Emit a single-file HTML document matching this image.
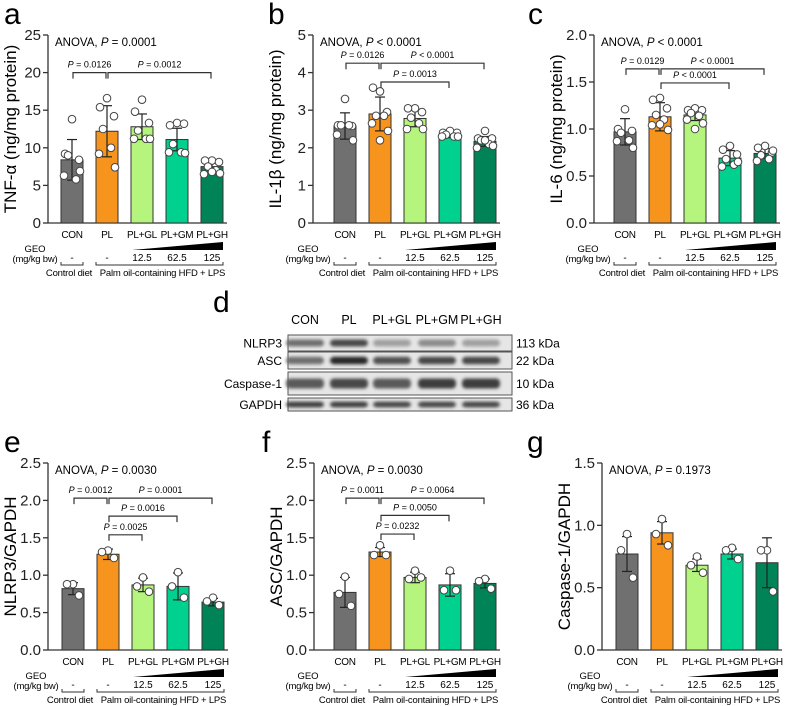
<!DOCTYPE html>
<html><head><meta charset="utf-8">
<style>
body{margin:0;background:#fff;}
svg{display:block;font-family:"Liberation Sans",Arial,sans-serif;}
</style></head>
<body>
<svg id="fig" width="790" height="706" viewBox="0 0 790 706" xmlns="http://www.w3.org/2000/svg">
<defs><filter id="bl" x="-20%" y="-50%" width="140%" height="200%"><feGaussianBlur stdDeviation="1.6"/></filter></defs>
</svg>
<script>
const groups = ["CON","PL","PL+GL","PL+GM","PL+GH"];
const colors = ["#707070","#F7941D","#B5F57E","#00D18F","#008457"];
// panel a
const aMeans=[8.4,12.2,12.8,11.1,7.5];
const aSD=[2.7,3.4,1.7,1.5,0.8];
const aPts=[[13.8,9.2,8.4,9.0,5.8,6.3,6.9],[16.6,15.4,14.2,12.5,10.0,9.2,7.4],[16.4,14.8,13.3,12.3,11.2,11.2,11.2],[13.3,13.0,13.2,10.5,9.4,9.4,9.3],[8.3,8.3,8.1,7.5,7.0,6.5,6.6,6.8]];
const aTicks=["0","5","10","15","20","25"];
// panel b
const bMeans=[2.58,2.9,2.78,2.35,2.17];
const bSD=[0.35,0.45,0.22,0.08,0.13];
const bPts=[[3.3,2.6,2.58,2.6,2.6,2.35,2.2],[3.5,3.6,2.95,2.85,2.85,2.65,2.45,2.2],[3.05,3.05,2.95,2.8,2.65,2.5,2.5],[2.45,2.4,2.4,2.35,2.3,2.3,2.3],[2.45,2.25,2.25,2.2,2.1,2.0,2.05,2.2]];
const bTicks=["0","1","2","3","4","5"];
// panel c
const cMeans=[0.97,1.13,1.15,0.69,0.74];
const cSD=[0.14,0.15,0.06,0.08,0.05];
const cPts=[[1.21,1.0,0.98,0.96,0.88,0.87,0.8],[1.33,1.31,1.22,1.15,1.1,1.04,0.99,1.05],[1.22,1.2,1.2,1.17,1.14,1.1,1.06,1.0],[0.82,0.78,0.73,0.68,0.62,0.6,0.65],[0.82,0.8,0.75,0.72,0.68,0.66,0.77]];
const cTicks=["0.0","0.5","1.0","1.5","2.0"];
// panel e
const eMeans=[0.82,1.28,0.87,0.85,0.64];
const eSD=[0.08,0.07,0.09,0.18,0.05];
const ePts=[[0.88,0.88,0.73],[1.33,1.31,1.23],[0.97,0.85,0.78],[1.04,0.85,0.7],[0.7,0.65,0.6]];
const eTicks=["0.0","0.5","1.0","1.5","2.0","2.5"];
// panel f
const fMeans=[0.77,1.31,0.97,0.87,0.89];
const fSD=[0.2,0.06,0.07,0.15,0.06];
const fPts=[[0.98,0.75,0.59],[1.4,1.27,1.27],[1.06,0.95,0.97],[1.06,0.8,0.8],[0.95,0.92,0.82]];
const fTicks=["0.0","0.5","1.0","1.5","2.0","2.5"];
// panel g
const gMeans=[0.77,0.94,0.68,0.77,0.7];
const gSD=[0.14,0.09,0.05,0.04,0.2];
const gPts=[[0.93,0.8,0.58],[1.05,0.93,0.84],[0.75,0.68,0.62],[0.82,0.8,0.73],[0.8,0.8,0.47]];
const gTicks=["0.0","0.5","1.0","1.5"];

const svg=document.getElementById('fig');
const NS="http://www.w3.org/2000/svg";
function mk(tag,attrs,parent){const e=document.createElementNS(NS,tag);for(const k in attrs)e.setAttribute(k,attrs[k]);(parent||svg).appendChild(e);return e;}
function txt(s,attrs,parent){const e=mk('text',attrs,parent);e.textContent=s;return e;}

function panel(cfg){
  const g=mk('g',{});
  
  
  const ymax=cfg.ymax, y0=cfg.y0, h=cfg.h;
  const Y=v=>y0-v/ymax*h;
  const X=i=>cfg.x0+i*35;
  const lt=txt(cfg.id,{x:cfg.lx,y:cfg.ly,'font-size':30},g);
  
  
  const ax=mk('line',{x1:cfg.ax,y1:Y(ymax),x2:cfg.ax,y2:y0,stroke:'#333','stroke-width':1.3},g);
  
  
  cfg.ticks.forEach((t,i)=>{
    const v=ymax*i/(cfg.ticks.length-1);
    mk('line',{x1:cfg.ax-5,y1:Y(v),x2:cfg.ax,y2:Y(v),stroke:'#333','stroke-width':1.3},g);
    const tl=txt(t,{x:cfg.ax-7,y:Y(v)+5,'font-size':15,'text-anchor':'end',fill:'#222'},g);
    
    
  });
  const yt=txt(cfg.ytitle,{x:0,y:0,'font-size':17,'text-anchor':'middle',transform:`translate(${cfg.ax-32},${y0-h/2}) rotate(-90)`},g);
  
  
  const xa=mk('line',{x1:cfg.ax,y1:y0,x2:X(4)+15,y2:y0,stroke:'#333','stroke-width':1.3},g);
  
  
  const an=txt('',{x:cfg.ax+7,y:Y(ymax)+11,'font-size':11.5},g);
  an.innerHTML=`ANOVA, <tspan font-style="italic">P</tspan> ${cfg.anova}`;
  
  
  cfg.means.forEach((m,i)=>{
    const b=mk('rect',{x:X(i)-11,y:Y(m),width:22,height:y0-Y(m),fill:colors[i],stroke:'#333','stroke-width':1},g);
    
    
    const sd=cfg.sd[i];
    mk('line',{x1:X(i),y1:Y(m+sd),x2:X(i),y2:Y(Math.max(0,m-sd)),stroke:'#222','stroke-width':1.2},g);
    mk('line',{x1:X(i)-5,y1:Y(m+sd),x2:X(i)+5,y2:Y(m+sd),stroke:'#222','stroke-width':1.2},g);
    mk('line',{x1:X(i)-5,y1:Y(m-sd),x2:X(i)+5,y2:Y(m-sd),stroke:'#222','stroke-width':1.2},g);
    const pts=cfg.pts[i];
    const off=pts.length<=3?[0,-6,6]:[0,-7,7,-4,4,-8,8,0];
    pts.forEach((p,j)=>{
      const c=mk('circle',{cx:X(i)+off[j%off.length],cy:Y(p),r:3.8,fill:'#fff',stroke:'#444','stroke-width':1},g);
      
      
    });
    const cl=txt(groups[i],{x:X(i),y:y0+15,'font-size':10,'letter-spacing':'-0.3','text-anchor':'middle'},g);
    
    
  });
  cfg.br.forEach(bk=>{
    const [a,b2,v,lab]=bk;const yy=Y(v);
    mk('path',{d:`M${X(a)+1},${yy+6} V${yy} H${X(b2)-1} V${yy+6}`,fill:'none',stroke:'#333','stroke-width':1.2},g);
    const bt=txt('',{x:(X(a)+X(b2))/2,y:yy-5,'font-size':9,'text-anchor':'middle'},g);
    bt.innerHTML=`<tspan font-style="italic">P</tspan> ${lab}`;
    
    
  });
  const by=y0;
  txt('GEO',{x:X(0)-37,y:by+29,'font-size':9.5,'text-anchor':'middle'},g);
  txt('(mg/kg bw)',{x:X(0)-37,y:by+39,'font-size':9.5,'letter-spacing':'-0.2','text-anchor':'middle'},g);
  txt('-',{x:X(0),y:by+38,'font-size':10,'text-anchor':'middle'},g);
  txt('-',{x:X(1),y:by+38,'font-size':10,'text-anchor':'middle'},g);
  ['12.5','62.5','125'].forEach((s,k)=>txt(s,{x:X(k+2),y:by+38,'font-size':10,'text-anchor':'middle'},g));
  const tri=mk('polygon',{points:`${X(1)+25},${by+27} ${X(4)+11},${by+19} ${X(4)+11},${by+27}`,fill:'#000'},g);
  
  
  mk('path',{d:`M${X(0)-11},${by+39} V${by+42} H${X(0)+11} V${by+39}`,fill:'none',stroke:'#333','stroke-width':1},g);
  mk('path',{d:`M${X(1)-11},${by+39} V${by+42} H${X(4)+11} V${by+39}`,fill:'none',stroke:'#333','stroke-width':1},g);
  txt('Control diet',{x:X(0)-3,y:by+53,'font-size':9.5,'letter-spacing':'-0.2','text-anchor':'middle'},g);
  txt('Palm oil-containing HFD + LPS',{x:(X(1)+X(4))/2+3,y:by+53,'font-size':9.5,'letter-spacing':'-0.2','text-anchor':'middle'},g);
}

panel({id:'a',lx:4,ly:24,ax:48,x0:72,y0:223,h:188,ymax:25,ticks:aTicks,means:aMeans,sd:aSD,pts:aPts,ytitle:'TNF-α (ng/mg protein)',anova:'= 0.0001',
  br:[[0,1,20,'= 0.0126'],[1,4,20,'= 0.0012']]});
panel({id:'b',lx:268,ly:24,ax:313,x0:345,y0:223,h:188,ymax:5,ticks:bTicks,means:bMeans,sd:bSD,pts:bPts,ytitle:'IL-1β (ng/mg protein)',anova:'< 0.0001',
  br:[[0,1,4.25,'= 0.0126'],[1,4,4.25,'< 0.0001'],[1,3,3.75,'= 0.0013']]});
panel({id:'c',lx:528,ly:24,ax:594,x0:625,y0:223,h:188,ymax:2,ticks:cTicks,means:cMeans,sd:cSD,pts:cPts,ytitle:'IL-6 (ng/mg protein)',anova:'< 0.0001',
  br:[[0,1,1.64,'= 0.0129'],[1,4,1.64,'< 0.0001'],[1,3,1.49,'< 0.0001']]});
panel({id:'e',lx:4,ly:452,ax:48,x0:73,y0:650,h:187,ymax:2.5,ticks:eTicks,means:eMeans,sd:eSD,pts:ePts,ytitle:'NLRP3/GAPDH',anova:'= 0.0030',
  br:[[0,1,2.03,'= 0.0012'],[1,4,2.03,'= 0.0001'],[1,3,1.79,'= 0.0016'],[1,2,1.54,'= 0.0025']]});
panel({id:'f',lx:262,ly:452,ax:314,x0:345,y0:650,h:187,ymax:2.5,ticks:fTicks,means:fMeans,sd:fSD,pts:fPts,ytitle:'ASC/GAPDH',anova:'= 0.0030',
  br:[[0,1,2.03,'= 0.0011'],[1,4,2.03,'= 0.0064'],[1,3,1.8,'= 0.0050'],[1,2,1.55,'= 0.0232']]});
panel({id:'g',lx:527,ly:452,ax:602,x0:627,y0:650,h:187,ymax:1.5,ticks:gTicks,means:gMeans,sd:gSD,pts:gPts,ytitle:'Caspase-1/GAPDH',anova:'= 0.1973',br:[]});

const blotRows=["NLRP3","ASC","Caspase-1","GAPDH"];
const blotKDa=["113 kDa","22 kDa","10 kDa","36 kDa"];
const blotIntensity=[[0.6,0.8,0.35,0.45,0.35],[0.6,0.95,0.75,0.8,0.8],[0.7,0.8,0.7,0.85,0.85],[0.85,0.85,0.8,0.8,0.8]];
const blotRowY=[335,352,372,398];
const blotRowH=[16,17,23,13];
(function(){
  const g=mk('g',{});
  
  
  txt('d',{x:213,y:312,'font-size':30},g);
  const laneX=[305,349,392,437,481];
  groups.forEach((s,i)=>{const t=txt(s,{x:laneX[i],y:324,'font-size':12.5,'text-anchor':'middle'},g);
    });
  blotRows.forEach((r,k)=>{
    const y=blotRowY[k],hh=blotRowH[k];
    const bx=mk('rect',{x:288,y:y,width:224,height:hh,fill:'#e6e6e6',stroke:'#555','stroke-width':1},g);
    
    
    blotIntensity[k].forEach((v,i)=>{
      const c=Math.round(230-200*v);
      mk('rect',{x:laneX[i]-19,y:y+hh/2-hh*0.22,width:38,height:hh*0.44,rx:4,fill:`rgb(${c},${c},${c})`,filter:'url(#bl)'},g);
    });
    txt(r,{x:282,y:y+hh/2+4.5,'font-size':12,'text-anchor':'end'},g);
    txt(blotKDa[k],{x:516,y:y+hh/2+4.5,'font-size':12},g);
  });
})();
</script>
</body></html>
